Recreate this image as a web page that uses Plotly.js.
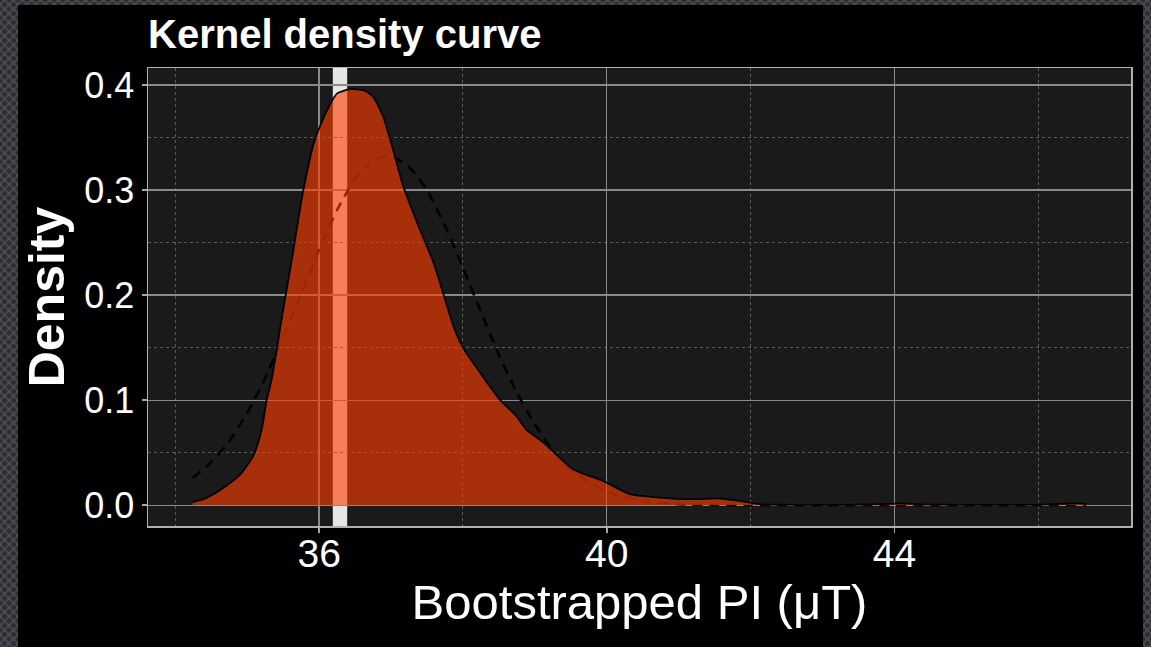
<!DOCTYPE html>
<html>
<head>
<meta charset="utf-8">
<script src="https://cdn.plot.ly/plotly-3.0.1.min.js"></script>
<style>
  html, body { margin:0; padding:0; width:1151px; height:647px; overflow:hidden; }
  body {
    background-color:#474a4f;
    background-image:
      radial-gradient(circle, #2c2e32 2.1px, transparent 2.8px),
      radial-gradient(circle, #2c2e32 2.1px, transparent 2.8px);
    background-size: 9px 9px, 9px 9px;
    background-position: 0 0, 4.5px 4.5px;
  }
  #chart { position:absolute; left:18px; top:5px; width:1125px; height:642px; background:#000; }
</style>
</head>
<body>
<div id="chart"></div>
<script>
// Kernel density estimate of bootstrapped PI values
const kdeX = [34.24, 34.40, 34.53, 34.70, 34.90, 35.09, 35.20, 35.27, 35.34, 35.48, 35.62, 35.78, 35.94, 36.11, 36.25, 36.43, 36.62, 36.75, 36.89, 37.03, 37.17, 37.38, 37.59, 37.73, 37.87, 38.00, 38.24, 38.51, 38.74, 38.88, 39.12, 39.53, 39.95, 40.32, 40.74, 41.20, 41.57, 41.85, 42.13, 42.50, 43.00, 43.50, 43.80, 44.10, 44.40, 45.00, 45.50, 46.00, 46.30, 46.55, 46.67];
const kdeY = [0.003, 0.006, 0.0105, 0.018, 0.029, 0.048, 0.072, 0.100, 0.120, 0.178, 0.234, 0.300, 0.348, 0.376, 0.392, 0.396, 0.395, 0.389, 0.370, 0.338, 0.3035, 0.266, 0.231, 0.2006, 0.170, 0.150, 0.126, 0.1008, 0.085, 0.072, 0.0596, 0.0342, 0.023, 0.0105, 0.0073, 0.0057, 0.0064, 0.0041, 0.001, 0.0005, 0.0003, 0.0005, 0.001, 0.0018, 0.0008, 0.0003, 0.0003, 0.0005, 0.0012, 0.0018, 0.0012];

// Dashed reference (normal) curve
const normX = [34.24, 34.50, 34.75, 35.00, 35.25, 35.50, 35.75, 36.00, 36.25, 36.50, 36.75, 37.00, 37.25, 37.50, 37.75, 38.00, 38.25, 38.50, 38.75, 39.00, 39.25, 39.50, 39.75, 40.00, 40.50, 41.00, 41.50, 42.00, 43.00, 44.00, 45.00, 46.00, 46.67];
const normY = [0.026, 0.041, 0.061, 0.088, 0.121, 0.160, 0.201, 0.243, 0.281, 0.311, 0.329, 0.332, 0.322, 0.300, 0.266, 0.226, 0.184, 0.143, 0.107, 0.077, 0.052, 0.034, 0.022, 0.013, 0.004, 0.001, 0.0003, 0.0, 0.0, 0.0, 0.0, 0.0, 0.0];

// Highlighted value band (µT)
const bandRange = [36.19, 36.39];

const xTicks = [36, 40, 44];
const yTicks = [0.0, 0.1, 0.2, 0.3, 0.4];
const yTickText = ['0.0', '0.1', '0.2', '0.3', '0.4'];

const FONT = 'Liberation Sans, Arial, Helvetica, sans-serif';

const traces = [
  {
    x: normX, y: normY, type: 'scatter', mode: 'lines',
    line: {color: '#000000', width: 2.6, dash: '10px,7px', shape: 'spline', smoothing: 0.6},
    hoverinfo: 'skip'
  },
  {
    x: kdeX, y: kdeY, type: 'scatter', mode: 'lines',
    fill: 'tozeroy', fillcolor: 'rgba(255,62,0,0.62)',
    line: {color: '#000000', width: 1.8, shape: 'spline', smoothing: 0.6},
    hoverinfo: 'skip'
  }
];

const layout = {
  width: 1125, height: 642,
  margin: {l: 130, r: 12, t: 63, b: 121},
  paper_bgcolor: '#000000',
  plot_bgcolor: '#1a1a1a',
  showlegend: false,
  title: {
    text: 'Kernel density curve',
    font: {family: FONT, size: 40, color: '#ffffff', weight: 'bold'},
    x: 0, xref: 'paper', xanchor: 'left',
    y: 1, yref: 'paper', yanchor: 'bottom',
    pad: {b: 20}
  },
  xaxis: {
    range: [33.62, 47.29],
    tickvals: xTicks, ticktext: xTicks.map(String),
    ticks: 'outside', ticklen: 5, tickwidth: 1.5, tickcolor: '#a6a6a6',
    tickfont: {family: FONT, size: 39, color: '#ffffff'},
    ticklabelstandoff: -12,
    showgrid: true, gridcolor: '#8a8a8a', gridwidth: 1.3,
    minor: {dtick: 2, tick0: 34, showgrid: true, gridcolor: '#5c5c5c', griddash: 'dot', gridwidth: 1, ticks: ''},
    showline: true, mirror: true, linecolor: '#b0b0b0', linewidth: 1.5,
    zeroline: false,
    title: {text: 'Bootstrapped PI (\u03bcT)', font: {family: FONT, size: 49, color: '#ffffff'}, standoff: 2},
    automargin: false
  },
  yaxis: {
    range: [-0.0198, 0.4162],
    tickvals: yTicks, ticktext: yTickText,
    ticks: 'outside', ticklen: 5, tickwidth: 1.5, tickcolor: '#a6a6a6',
    tickfont: {family: FONT, size: 36, color: '#ffffff'},
    showgrid: true, gridcolor: '#8a8a8a', gridwidth: 1.3,
    minor: {dtick: 0.05, tick0: 0.05, showgrid: true, gridcolor: '#5c5c5c', griddash: 'dot', gridwidth: 1, ticks: ''},
    showline: true, mirror: true, linecolor: '#b0b0b0', linewidth: 1.5,
    zeroline: false,
    title: {text: 'Density', font: {family: FONT, size: 50, color: '#ffffff', weight: 'bold'}, standoff: 4},
    automargin: false
  },
  shapes: [
    {
      type: 'rect', layer: 'between',
      xref: 'x', yref: 'paper',
      x0: bandRange[0], x1: bandRange[1], y0: 0, y1: 1,
      fillcolor: '#e6e6e6', line: {width: 0}
    }
  ]
};

Plotly.newPlot('chart', traces, layout, {displayModeBar: false, staticPlot: true});
</script>
</body>
</html>
